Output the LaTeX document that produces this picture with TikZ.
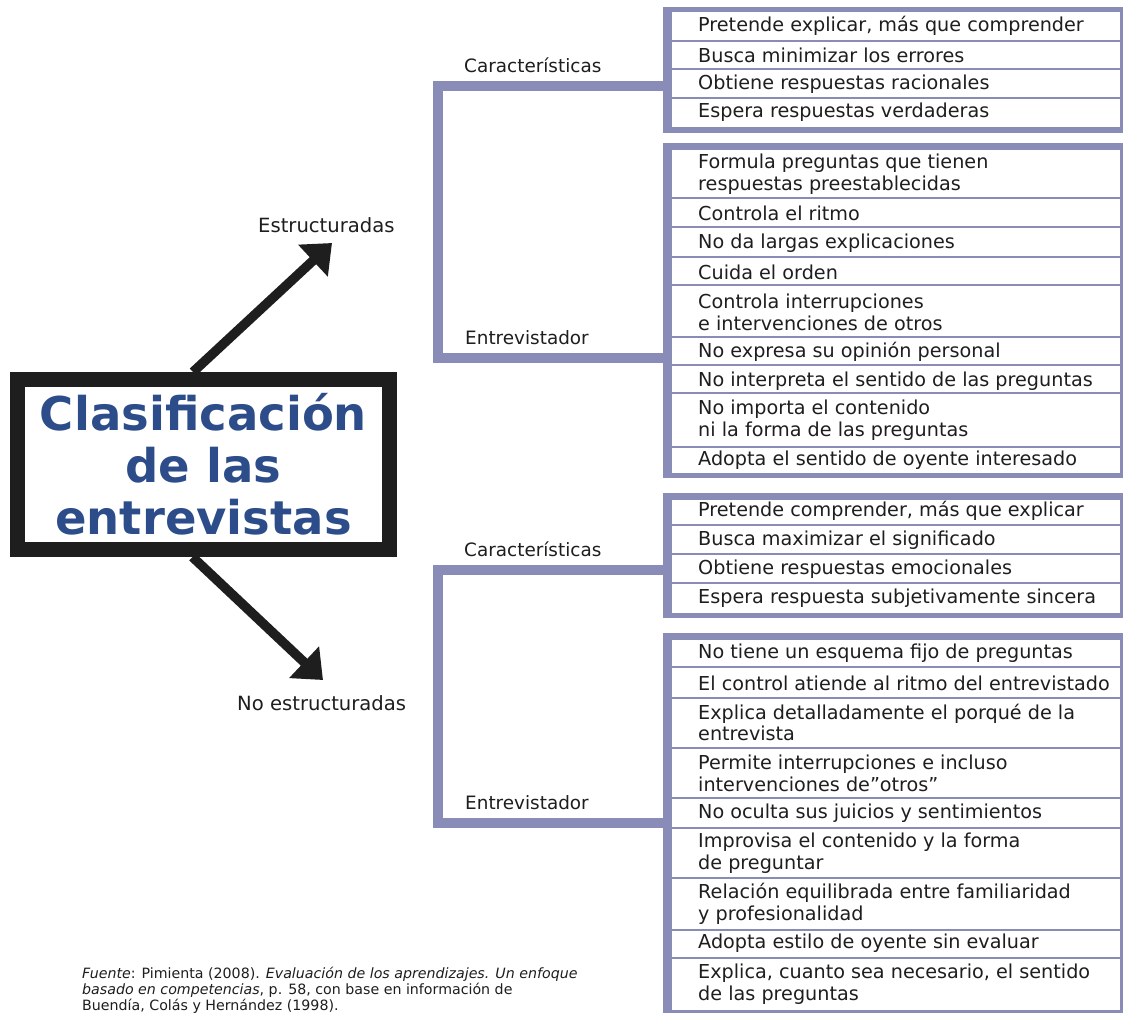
\documentclass[tikz,border=0pt]{standalone}
\usepackage{fontspec}
\setmainfont{DejaVu Sans}
\newfontfamily\titlefont{DejaVu Sans}
\usetikzlibrary{arrows.meta}
\definecolor{framec}{HTML}{8A8CB8}
\definecolor{titleblue}{HTML}{2C4D8A}
\definecolor{ink}{HTML}{1E1E1E}
\begin{document}
\begin{tikzpicture}[x=1pt,y=-1pt,
  item/.style={anchor=west, inner sep=0pt, font=\fontsize{19.2}{21.8}\selectfont, text=ink, align=left},
  lab/.style={anchor=west, inner sep=0pt, font=\fontsize{18.4}{20}\selectfont, text=ink},
  lab2/.style={anchor=west, inner sep=0pt, font=\fontsize{19.6}{21}\selectfont, text=ink},
  sepline/.style={draw=framec, line width=1.5pt},
  bracket/.style={draw=framec, line width=10pt},
  bigarrow/.style={draw=ink, line width=9.5pt, -{Triangle[length=26pt,width=42pt]}},
  mainbox/.style={draw=ink, line width=15pt, fill=white, minimum width=372pt, minimum height=170pt,
    inner sep=0pt, align=center, text=titleblue, font=\titlefont\bfseries\fontsize{46.5}{52}\selectfont},
]
\useasboundingbox (0,0) rectangle (1123,1012);
\clip (0,0) rectangle (1123,1012);
\fill[white] (0,0) rectangle (1123,1012);

% ---- coordinates
\coordinate (tipA) at (332,243);
\coordinate (tipB) at (323,680);

% ---- main box and arrows
\node[mainbox] (main) at (203.5,464.5) {Clasificación\\de las\\entrevistas};
\draw[bigarrow] ([xshift=-10.5pt]main.north) -- (tipA);
\draw[bigarrow] ([xshift=-11pt]main.south) -- (tipB);
\node[lab2] (estr) at (258,225) {Estructuradas};
\node[lab2] (noestr) at (237,703) {No estructuradas};

% ---- list box 1
\fill[framec] (663,7) rectangle (1123,133);
\fill[white] (672,12) rectangle (1120,127);
\foreach \y in {41,69,98} \draw[sepline] (672,\y) -- (1120,\y);
\node[item] (a1) at (698,26) {Pretende explicar, más que comprender};
\node[item] (a2) at (698,55) {Busca minimizar los errores};
\node[item] (a3) at (698,84) {Obtiene respuestas racionales};
\node[item] (a4) at (698,112) {Espera respuestas verdaderas};
\coordinate (box1) at (668,86);

% ---- list box 2
\fill[framec] (663,143) rectangle (1123,478);
\fill[white] (672,150) rectangle (1120,473);
\foreach \y in {198,227,257,285,337,365,393,447} \draw[sepline] (672,\y) -- (1120,\y);
\node[item] (b1) at (698,174) {Formula preguntas que tienen\\respuestas preestablecidas};
\node[item] (b2) at (698,213) {Controla el ritmo};
\node[item] (b3) at (698,243) {No da largas explicaciones};
\node[item] (b4) at (698,272) {Cuida el orden};
\node[item] (b5) at (698,312.5) {Controla interrupciones\\e intervenciones de otros};
\node[item] (b6) at (698,352) {No expresa su opinión personal};
\node[item] (b7) at (698,381) {No interpreta el sentido de las preguntas};
\node[item] (b8) at (698,420.5) {No importa el contenido\\ni la forma de las preguntas};
\node[item] (b9) at (698,460) {Adopta el sentido de oyente interesado};
\coordinate (box2) at (668,358);

% ---- list box 3
\fill[framec] (663,493) rectangle (1123,618);
\fill[white] (672,500) rectangle (1120,613);
\foreach \y in {525,554,583} \draw[sepline] (672,\y) -- (1120,\y);
\node[item] (c1) at (698,511) {Pretende comprender, más que explicar};
\node[item] (c2) at (698,540) {Busca maximizar el significado};
\node[item] (c3) at (698,569) {Obtiene respuestas emocionales};
\node[item] (c4) at (698,598) {Espera respuesta subjetivamente sincera};
\coordinate (box3) at (668,570);

% ---- list box 4
\fill[framec] (663,633) rectangle (1123,1020);
\fill[white] (672,640) rectangle (1120,1010);
\foreach \y in {667,698,748,798,828,878,930,958} \draw[sepline] (672,\y) -- (1120,\y);
\node[item] (d1) at (698,653) {No tiene un esquema fijo de preguntas};
\node[item] (d2) at (698,683) {El control atiende al ritmo del entrevistado};
\node[item] (d3) at (698,722.5) {Explica detalladamente el porqué de la\\entrevista};
\node[item] (d4) at (698,773.5) {Permite interrupciones e incluso\\intervenciones de"otros"};
\node[item] (d5) at (698,813) {No oculta sus juicios y sentimientos};
\node[item] (d6) at (698,853) {Improvisa el contenido y la forma\\de preguntar};
\node[item] (d7) at (698,903.5) {Relación equilibrada entre familiaridad\\y profesionalidad};
\node[item] (d8) at (698,943) {Adopta estilo de oyente sin evaluar};
\node[item] (d9) at (698,984) {Explica, cuanto sea necesario, el sentido\\de las preguntas};
\coordinate (box4) at (668,823);

% ---- brackets
\draw[bracket] (box1) -- (438,86) -- (438,358) -- (box2);
\draw[bracket] (box3) -- (438,570) -- (438,823) -- (box4);
\node[lab] (car1) at (464,65) {Características};
\node[lab] (ent1) at (465,338) {Entrevistador};
\node[lab] (car2) at (464,549) {Características};
\node[lab] (ent2) at (465,803) {Entrevistador};

% ---- source note
\node[anchor=north west, inner sep=0pt, align=left, text=ink, font=\fontsize{14.2}{16}\selectfont] (fuente) at (82,967)
  {\textit{Fuente}: Pimienta (2008). \textit{Evaluación de los aprendizajes. Un enfoque}\\
   \textit{basado en competencias}, p. 58, con base en información de\\
   Buendía, Colás y Hernández (1998).};
\end{tikzpicture}
\end{document}
